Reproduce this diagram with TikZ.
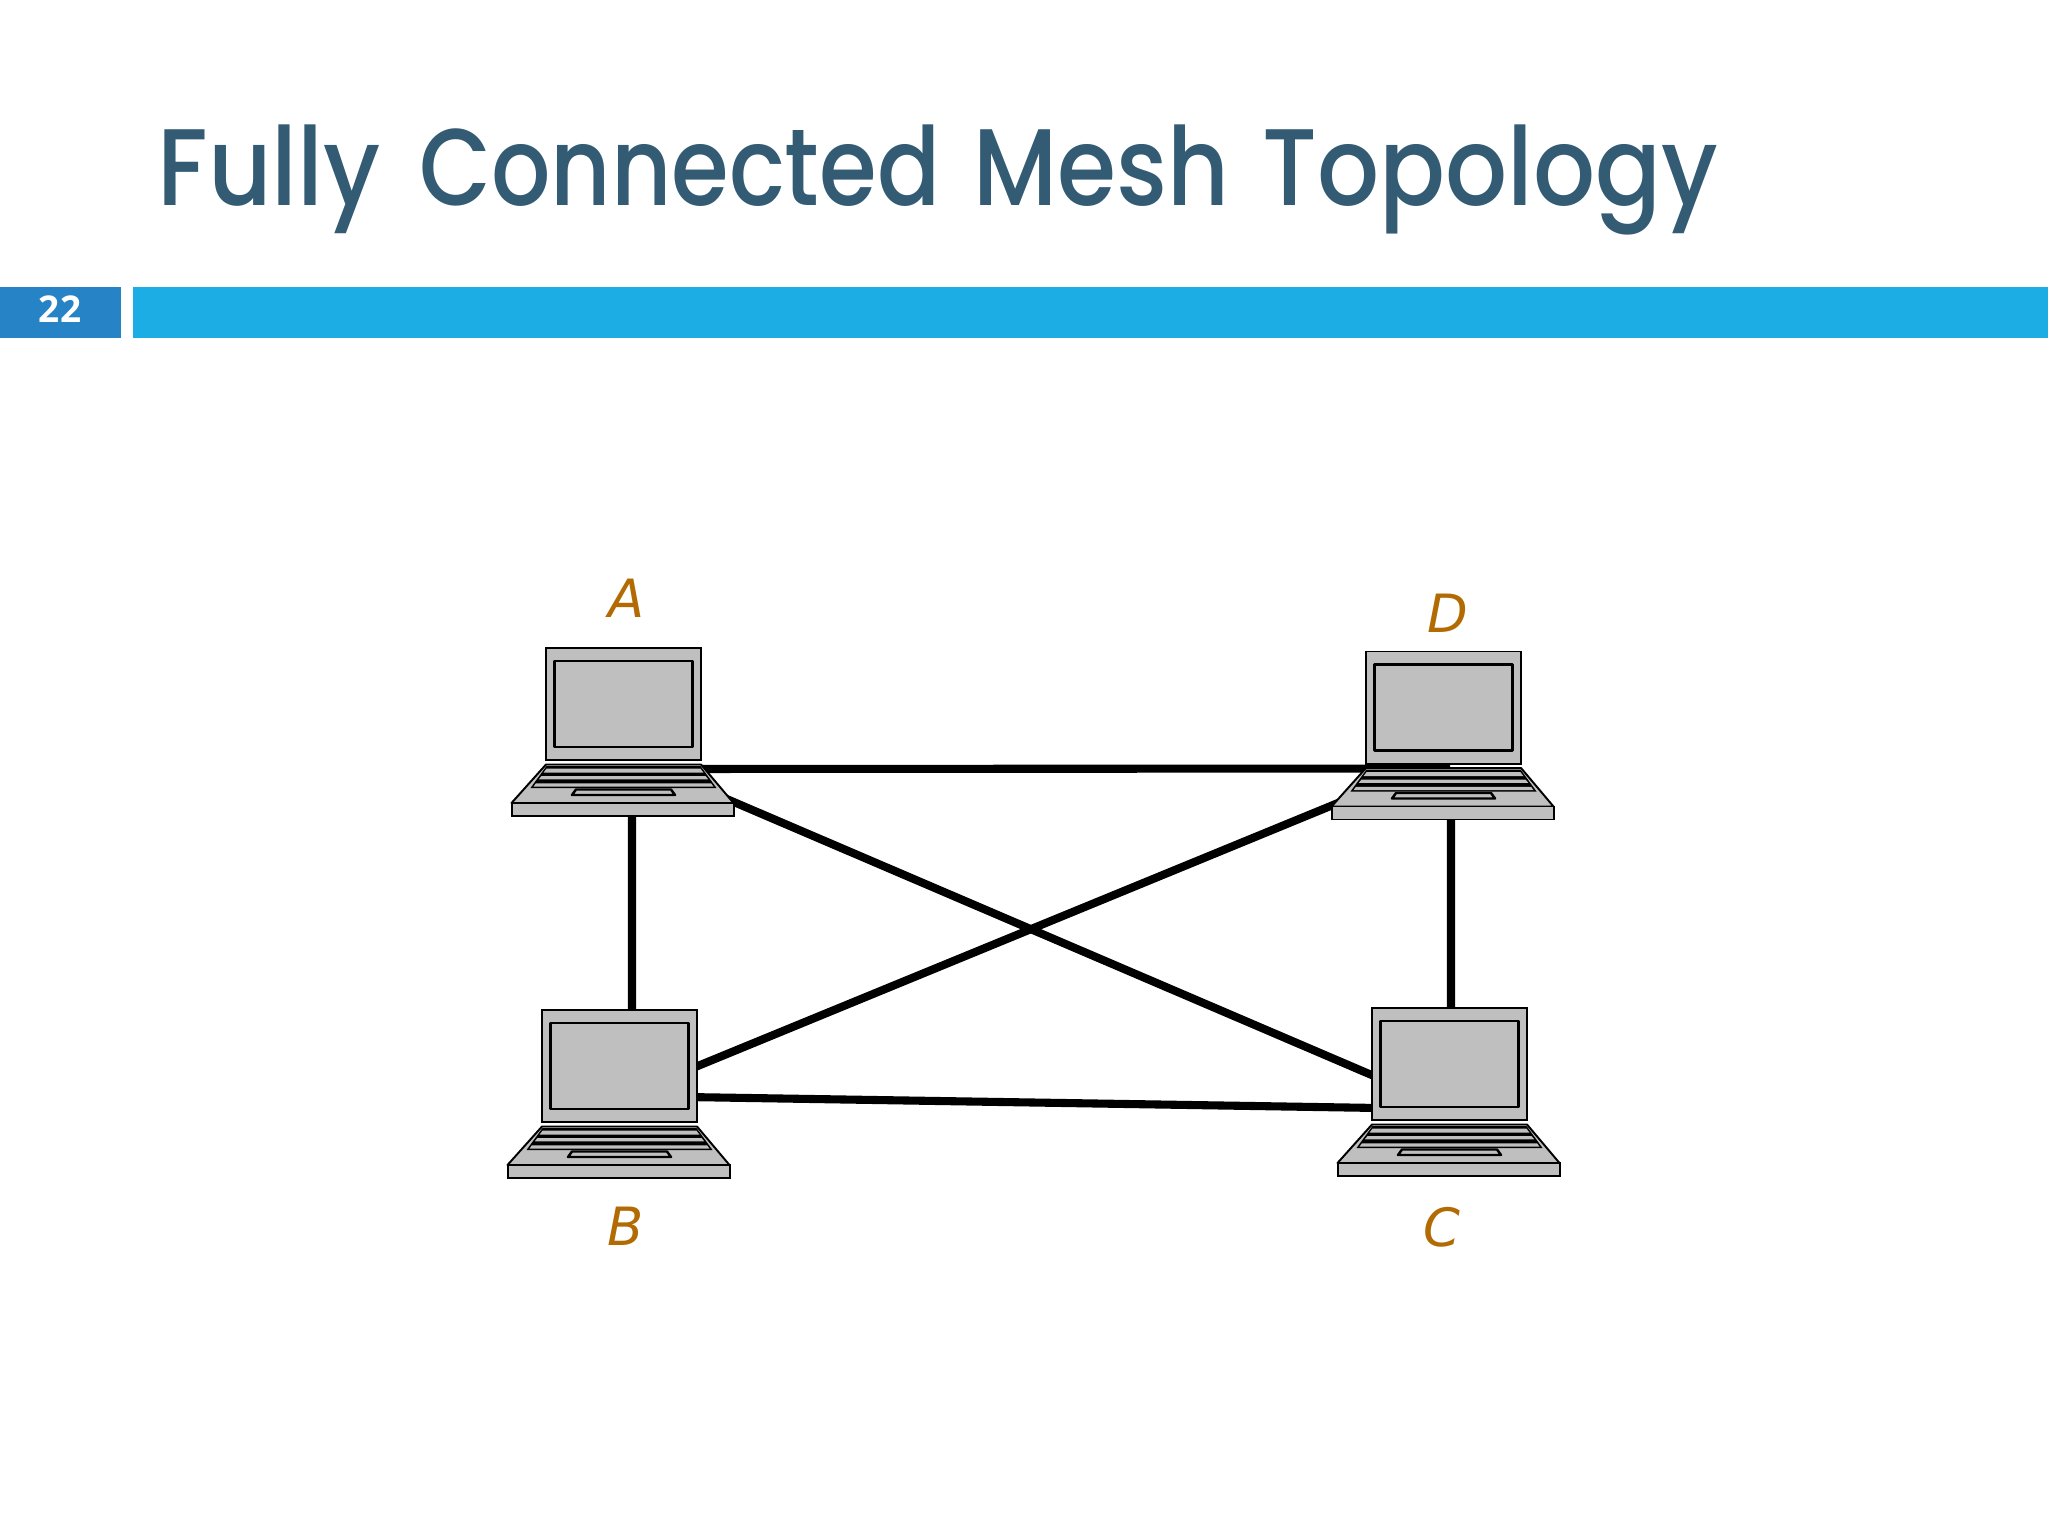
\documentclass[tikz,border=0pt]{standalone}
\usepackage{fontspec}
\usepackage{xcolor}
\usepackage{tikz}
\usetikzlibrary{positioning,calc,backgrounds}
\newfontfamily\titlefont{Poppins Medium}
\newfontfamily\numfont{Open Sans}
\newfontfamily\labelfont{DejaVu Sans}
\definecolor{titleblue}{HTML}{335B74}
\definecolor{barblue}{HTML}{1CADE4}
\definecolor{numblue}{HTML}{2683C6}
\definecolor{labelgold}{HTML}{B26B02}
\definecolor{laptopgray}{HTML}{BFBFBF}

\begin{document}
\begin{tikzpicture}[x=0.01cm,y=-0.01cm]
  \tikzset{
    bar/.style={
      fill=barblue,
      draw=none,
      inner sep=0pt,
      minimum height=0.51cm
    },
    link/.style={
      draw=black,
      line width=2.3pt
    },
    screenbox/.style={
      draw=black,
      fill=laptopgray,
      line width=0.55pt,
      inner sep=0pt,
      minimum width=1.55cm,
      minimum height=1.12cm
    },
    basebox/.style={
      draw=black,
      fill=laptopgray,
      line width=0.55pt,
      inner sep=0pt,
      minimum width=2.21cm,
      minimum height=0.13cm
    },
    part/.style={
      draw=black,
      fill=laptopgray,
      line width=0.55pt,
      line join=round
    },
    hostlabel/.style={
      font=\labelfont\itshape\fontsize{15pt}{17pt}\selectfont,
      text=labelgold
    },
    pics/laptop/.style={
      code={
        % Screen
        \node[screenbox] (-screen) at (0,0) {};
        \draw[part, line width=0.7pt] (-69,-43) rectangle (69,43);
        % Deck
        \draw[part] (-77.5,60.5) -- (77.5,60.5) -- (110,99) -- (-112,99) -- cycle;
        \node[basebox] (-base) at (-0.5,105.5) {};
        % Keys
        \fill[black] (-77,62) -- (77,62) -- (93,84) -- (-93,84) -- cycle;
        \fill[laptopgray] (-77,64.7) -- (77,64.7) -- (80,68.7) -- (-80,68.7) -- cycle;
        \fill[laptopgray] (-82,72) -- (82,72) -- (84.7,75.3) -- (-84.7,75.3) -- cycle;
        \fill[laptopgray] (-87.6,79.3) -- (87.6,79.3) -- (90,82.7) -- (-90,82.7) -- cycle;
        % Touch pad
        \draw[part, line width=0.7pt] (-47.5,85.5) -- (47.5,85.5) -- (51.5,91) -- (-51.5,91) -- cycle;
      }
    }
  }
  \useasboundingbox (0,0) rectangle (2048,1536);

  % Title and bars
  \node[font=\titlefont\fontsize{31pt}{35pt}\selectfont, text=titleblue, anchor=base west, inner sep=0pt] (title) at (157,205) {\scalebox{0.90}[1]{Fully}\hspace{2.8pt} \scalebox{0.855}[1]{Connected}\hspace{1.3pt} \scalebox{0.875}[1]{Mesh}\hspace{1.4pt} \scalebox{0.893}[1]{Topology}};
  \node[bar, fill=numblue, minimum width=1.21cm, anchor=north west] (numbar) at (-1,286.5) {};
  \node[bar, minimum width=19.16cm, anchor=north west] (mainbar) at (132,286.5) {};
  \node[font=\numfont\bfseries\fontsize{10.5pt}{12pt}\selectfont, text=white] (num) at (60,309) {22};

  % Laptops
  \pic (A) at (623.5,704) {laptop};
  \pic (B) at (619.5,1066) {laptop};
  \pic (C) at (1449.5,1064) {laptop};
  \pic (D) at (1443.5,707.5) {laptop};

  % Links
  \begin{scope}[on background layer]
    \draw[link] ([xshift=0.09cm,yshift=0.03cm]A-base.south) -- ([xshift=0.125cm,yshift=-0.03cm]B-screen.north);
    \draw[link] ([xshift=0.08cm,yshift=0.03cm]D-base.south) -- ([xshift=0.015cm,yshift=-0.03cm]C-screen.north);
    \draw[link] ([xshift=-0.1cm,yshift=0.04cm]A-base.north east) -- ([xshift=0.1cm,yshift=-0.15cm]C-screen.west);
    \draw[link] ([xshift=-0.1cm,yshift=-0.04cm]B-screen.east) -- ([xshift=0.1cm,yshift=0.04cm]D-base.north west);
    \draw[link] ([xshift=-0.1cm,yshift=-0.31cm]B-screen.east) -- ([xshift=0.1cm,yshift=-0.44cm]C-screen.west);
    \draw[link] ([xshift=0.085cm,yshift=-0.08cm]A-screen.south) -- ([xshift=0.065cm,yshift=-0.04cm]D-screen.south);
  \end{scope}

  % Host names
  \node[hostlabel] (labelA) at (627,598.5) {A};
  \node[hostlabel] (labelB) at (626,1226.5) {B};
  \node[hostlabel] (labelC) at (1441.5,1227) {C};
  \node[hostlabel] (labelD) at (1448,613) {D};
\end{tikzpicture}
\end{document}
